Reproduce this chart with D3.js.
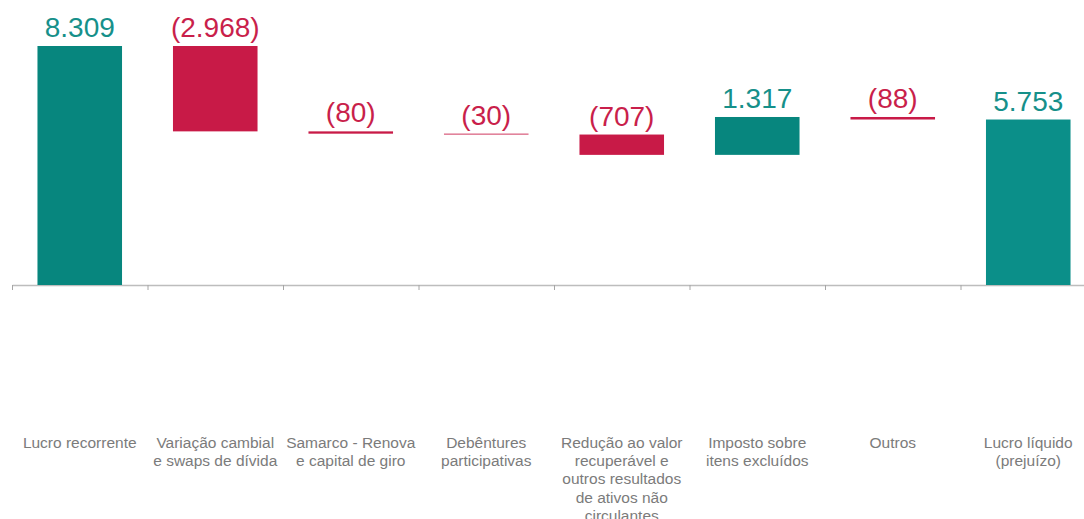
<!DOCTYPE html>
<html>
<head>
<meta charset="utf-8">
<script src="https://cdn.jsdelivr.net/npm/d3@7"></script>
<style>
  body { margin: 0; background: #fff; }
  svg { display: block; font-family: "Liberation Sans", Arial, sans-serif; }
</style>
</head>
<body>
<div class="chart"></div>
<script>
// chart data
var categories = ["Lucro recorrente", "Variação cambial", "Samarco", "Debêntures",
  "Redução", "Imposto", "Outros", "Lucro líquido"];
var values = [8309, -2968, -80, -30, -707, 1317, -88, 5753];
var isTotal = [true, false, false, false, false, false, false, true];
var tickLabels = [
  ["Lucro recorrente"],
  ["Variação cambial", "e swaps de dívida"],
  ["Samarco - Renova", "e capital de giro"],
  ["Debêntures", "participativas"],
  ["Redução ao valor", "recuperável e", "outros resultados", "de ativos não", "circulantes"],
  ["Imposto sobre", "itens excluídos"],
  ["Outros"],
  ["Lucro líquido", "(prejuízo)"]
];

var svgWidth = 1084;
var svgHeight = 519;

var svg = d3.select(".chart")
    .append("svg")
    .attr("width", svgWidth)
    .attr("height", svgHeight);

// build waterfall steps
var running = 0;
var steps = values.map(function (v, i) {
    var start, end;
    if (isTotal[i]) {
        start = 0; end = v; running = v;
    } else {
        start = running; end = running + v; running = end;
    }
    return { cat: categories[i], value: v, total: isTotal[i], lo: Math.min(start, end), hi: Math.max(start, end) };
});

var baseY = 285;
var yScale = d3.scaleLinear()
    .domain([0, d3.max(steps, function (d) { return d.hi; })])
    .range([baseY, 46]);

var xScale = d3.scaleBand()
    .domain(categories)
    .range([12, 1096])
    .paddingInner(0.376)
    .paddingOuter(0.188);

// boundary scale for the tick marks
var xEdge = d3.scaleLinear().domain([0, categories.length]).range([12, 1096]);

var teal = "#07867E";
var tealTotal = "#0B8F89";
var red = "#C81A47";

// axis
var axis = svg.append("g")
    .attr("class", "x-axis")
    .attr("transform", "translate(0," + baseY + ")")
    .call(d3.axisBottom(xEdge).ticks(categories.length).tickSize(5).tickSizeOuter(0).tickFormat(""));
axis.select(".domain").attr("stroke", "#bdbdbd").attr("stroke-width", 1.5);
axis.selectAll(".tick line").attr("stroke", "#a6a6a6").attr("stroke-width", 1);

// bars
svg.selectAll("rect.bar")
    .data(steps)
    .enter()
    .append("rect")
    .attr("class", "bar")
    .attr("x", function (d) { return xScale(d.cat); })
    .attr("width", xScale.bandwidth())
    .attr("y", function (d) { return yScale(d.hi); })
    .attr("height", function (d) { return yScale(d.lo) - yScale(d.hi); })
    .attr("fill", function (d) { return d.value < 0 ? red : (d.total && d.cat !== categories[0] ? tealTotal : teal); });

// value labels
var fmt = d3.formatLocale({ decimal: ",", thousands: ".", grouping: [3], currency: ["R$", ""] }).format(",.0f");
svg.selectAll("text.value")
    .data(steps)
    .enter()
    .append("text")
    .attr("class", "value")
    .attr("x", function (d) { return xScale(d.cat) + xScale.bandwidth() / 2; })
    .attr("y", function (d) { return yScale(d.hi) - 9; })
    .attr("text-anchor", "middle")
    .attr("font-size", "28px")
    .attr("fill", function (d) { return d.value < 0 ? "#C91F4B" : "#16908A"; })
    .text(function (d) { return d.value < 0 ? "(" + fmt(-d.value) + ")" : fmt(d.value); });

// category labels
var labels = svg.selectAll("text.cat")
    .data(steps)
    .enter()
    .append("text")
    .attr("class", "cat")
    .attr("text-anchor", "middle")
    .attr("font-size", "15.5px")
    .attr("fill", "#7b7b7b")
    .attr("y", 448);

labels.each(function (d, i) {
    var cx = xScale(d.cat) + xScale.bandwidth() / 2;
    d3.select(this).selectAll("tspan")
        .data(tickLabels[i])
        .enter()
        .append("tspan")
        .attr("x", cx)
        .attr("dy", function (t, j) { return j === 0 ? 0 : 18.2; })
        .text(function (t) { return t; });
});
</script>
</body>
</html>
